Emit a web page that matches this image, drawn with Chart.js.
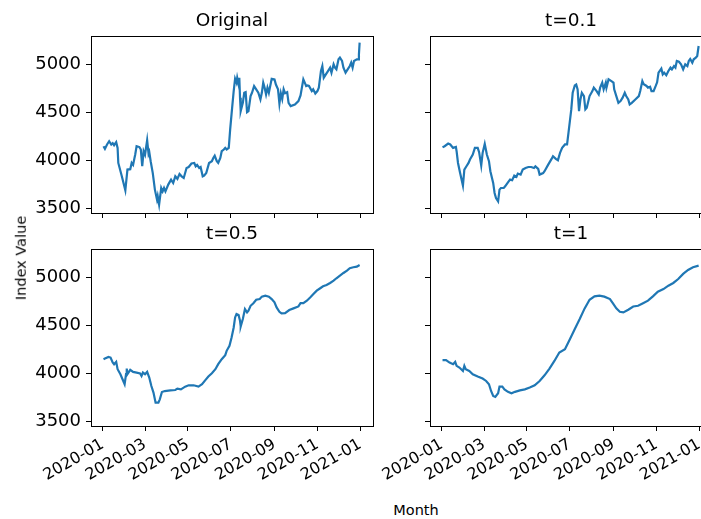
<!DOCTYPE html>
<html>
<head>
<meta charset="utf-8">
<script src="https://cdn.jsdelivr.net/npm/chart.js@4/dist/chart.umd.min.js"></script>
<style>
  html, body { margin: 0; padding: 0; background: #fff; overflow: hidden; width: 701px; height: 519px; }
  .panel { position: absolute; }
  .panel canvas { display: block; }
  .lbl { position: absolute; font-family: 'DejaVu Sans', sans-serif; font-size: 14.5px; line-height: 1; color: #000; white-space: nowrap; }
</style>
</head>
<body>
<div class="panel" id="p0"><canvas id="c0"></canvas></div>
<div class="panel" id="p1"><canvas id="c1"></canvas></div>
<div class="panel" id="p2"><canvas id="c2"></canvas></div>
<div class="panel" id="p3"><canvas id="c3"></canvas></div>
<div class="lbl" id="ylab" style="left:21px; top:258px; transform: translate(-50%, -50%) rotate(-90deg);">Index Value</div>
<div class="lbl" id="xlab" style="left:416px; top:510px; transform: translate(-50%, -50%);">Month</div>
<script>
// ---- data ----
const panelTitles = ['Original', 't=0.1', 't=0.5', 't=1'];

const originalDates = [
  '2020-01-02','2020-01-04','2020-01-07','2020-01-10','2020-01-13','2020-01-15','2020-01-17','2020-01-20','2020-01-22','2020-01-23',
  '2020-01-28','2020-02-02','2020-02-04','2020-02-05','2020-02-09','2020-02-11','2020-02-13','2020-02-15','2020-02-16','2020-02-18',
  '2020-02-22','2020-02-24','2020-02-26','2020-02-28','2020-03-01','2020-03-04','2020-03-06','2020-03-07','2020-03-09','2020-03-12',
  '2020-03-15','2020-03-18','2020-03-19','2020-03-21','2020-03-24','2020-03-26','2020-03-28','2020-03-30','2020-04-03','2020-04-07',
  '2020-04-10','2020-04-13','2020-04-16','2020-04-19','2020-04-22','2020-04-25','2020-04-29','2020-05-02','2020-05-06','2020-05-10',
  '2020-05-12','2020-05-14','2020-05-17','2020-05-19','2020-05-22','2020-05-24','2020-05-27','2020-05-31','2020-06-04','2020-06-06',
  '2020-06-08','2020-06-11','2020-06-13','2020-06-16','2020-06-18','2020-06-21','2020-06-23','2020-06-25','2020-06-28','2020-06-30',
  '2020-07-03','2020-07-05','2020-07-07','2020-07-09','2020-07-10','2020-07-12','2020-07-13','2020-07-14','2020-07-15','2020-07-18',
  '2020-07-20','2020-07-22','2020-07-24','2020-07-26','2020-07-29','2020-07-31','2020-08-03','2020-08-06','2020-08-09','2020-08-12',
  '2020-08-14','2020-08-16','2020-08-18','2020-08-20','2020-08-22','2020-08-24','2020-08-28','2020-09-01','2020-09-03','2020-09-06',
  '2020-09-08','2020-09-10','2020-09-12','2020-09-14','2020-09-16','2020-09-19','2020-09-21','2020-09-24','2020-09-30','2020-10-05',
  '2020-10-08','2020-10-12','2020-10-14','2020-10-16','2020-10-18','2020-10-20','2020-10-24','2020-10-26','2020-10-29','2020-11-01',
  '2020-11-03','2020-11-06','2020-11-08','2020-11-10','2020-11-13','2020-11-16','2020-11-19','2020-11-21','2020-11-24','2020-11-26',
  '2020-11-28','2020-12-01','2020-12-03','2020-12-06','2020-12-08','2020-12-11','2020-12-14','2020-12-17','2020-12-19','2020-12-21',
  '2020-12-23','2020-12-27','2020-12-29','2020-12-30','2020-12-31'
];
const originalValues = [
  4149,4121,4167,4201,4167,4180,4159,4191,4131,3975,
  3836,3690,3836,3906,3910,3975,3955,4027,4060,4149,
  4140,4115,3941,4097,4060,4211,4070,4090,3993,3870,
  3698,3594,3630,3542,3715,3680,3715,3680,3750,3802,
  3767,3836,3810,3860,3836,3819,3923,3933,3969,3975,
  3940,3955,3923,3933,3836,3843,3870,3975,3993,4027,
  4050,3993,3975,4027,4097,4115,4132,4115,4132,4323,
  4566,4722,4850,4810,4860,4790,4860,4653,4514,4600,
  4704,4710,4503,4514,4670,4704,4774,4740,4704,4635,
  4704,4809,4757,4687,4757,4704,4850,4843,4790,4740,
  4590,4700,4640,4740,4700,4710,4600,4566,4583,4618,
  4677,4844,4810,4775,4781,4775,4722,4740,4697,4722,
  4757,4930,4982,4861,4896,4930,4965,4913,5000,4965,
  4948,5052,5069,5035,4965,4913,4948,4982,5017,4965,
  5035,5052,5052,5104,5225
];

const t01Dates = [
  '2020-01-02','2020-01-05','2020-01-10','2020-01-13','2020-01-17','2020-01-21','2020-01-22','2020-01-24','2020-01-27','2020-01-31',
  '2020-02-02','2020-02-05','2020-02-08','2020-02-10','2020-02-14','2020-02-17','2020-02-21','2020-02-23','2020-02-26','2020-02-28',
  '2020-03-02','2020-03-05','2020-03-08','2020-03-10','2020-03-14','2020-03-16','2020-03-18','2020-03-21','2020-03-23','2020-03-25',
  '2020-03-29','2020-03-31','2020-04-04','2020-04-07','2020-04-10','2020-04-13','2020-04-16','2020-04-18','2020-04-22','2020-04-25',
  '2020-04-29','2020-05-03','2020-05-07','2020-05-11','2020-05-13','2020-05-17','2020-05-19','2020-05-24','2020-05-26','2020-05-31',
  '2020-06-05','2020-06-07','2020-06-11','2020-06-14','2020-06-17','2020-06-20','2020-06-24',
  '2020-06-27','2020-06-29','2020-07-03','2020-07-05','2020-07-08','2020-07-10','2020-07-12','2020-07-14','2020-07-16','2020-07-18',
  '2020-07-21','2020-07-23','2020-07-25','2020-07-29','2020-08-02','2020-08-04','2020-08-08','2020-08-11','2020-08-13','2020-08-16',
  '2020-08-18','2020-08-21','2020-08-22','2020-08-25','2020-08-29','2020-09-01','2020-09-02','2020-09-05','2020-09-08','2020-09-11',
  '2020-09-14','2020-09-17','2020-09-19','2020-09-22','2020-09-24','2020-09-27','2020-10-02','2020-10-07','2020-10-09','2020-10-12',
  '2020-10-14','2020-10-18','2020-10-20','2020-10-23','2020-10-25','2020-10-28','2020-10-31','2020-11-02','2020-11-04','2020-11-08',
  '2020-11-10','2020-11-12','2020-11-15','2020-11-18','2020-11-21','2020-11-23','2020-11-26','2020-11-28','2020-11-30','2020-12-03',
  '2020-12-06','2020-12-09','2020-12-12','2020-12-15','2020-12-17','2020-12-19','2020-12-22','2020-12-24','2020-12-27','2020-12-29',
  '2020-12-31'
];
const t01Values = [
  4139,4149,4177,4167,4132,4142,4097,3975,3870,3740,
  3906,3941,3975,4010,4062,4132,4132,4087,3948,4080,
  4173,4062,3993,3889,3767,3663,3610,3576,3698,3715,
  3715,3732,3774,3802,3795,3843,3830,3865,3854,3906,
  3923,3933,3933,3923,3940,3913,3854,3870,3889,3955,
  4017,4045,4017,4003,4080,4132,4167,
  4167,4288,4531,4704,4781,4790,4740,4514,4635,4704,
  4670,4531,4548,4670,4722,4757,4722,4687,4757,4809,
  4740,4809,4757,4844,4826,4809,4740,4670,4600,4618,
  4653,4704,4670,4635,4583,4600,4635,4670,4722,4826,
  4792,4775,4757,4767,4722,4722,4775,4813,4913,4955,
  4896,4913,4886,4930,4965,4948,4982,4965,5035,5027,
  5000,4948,5000,4982,5035,5055,5017,5052,5069,5086,
  5190
];

const t05Dates = [
  '2020-01-02','2020-01-04','2020-01-09','2020-01-12','2020-01-15','2020-01-17','2020-01-20','2020-01-22','2020-01-26','2020-01-29',
  '2020-02-01','2020-02-03','2020-02-04','2020-02-05','2020-02-09','2020-02-13','2020-02-18','2020-02-23','2020-02-25','2020-02-27',
  '2020-03-01','2020-03-04','2020-03-07','2020-03-10','2020-03-13','2020-03-16','2020-03-20','2020-03-22','2020-03-25','2020-03-29',
  '2020-04-06','2020-04-13','2020-04-16','2020-04-21','2020-04-27','2020-05-02','2020-05-09','2020-05-16','2020-05-21','2020-05-26',
  '2020-05-30','2020-06-04','2020-06-09','2020-06-13','2020-06-18','2020-06-23','2020-06-25','2020-06-29',
  '2020-07-02','2020-07-05','2020-07-07','2020-07-09','2020-07-12','2020-07-14','2020-07-15','2020-07-18','2020-07-21','2020-07-24',
  '2020-07-26','2020-07-29','2020-08-02','2020-08-06','2020-08-11','2020-08-14','2020-08-19','2020-08-24','2020-08-28','2020-09-01',
  '2020-09-04','2020-09-08','2020-09-11','2020-09-16','2020-09-22','2020-09-28','2020-10-05','2020-10-08','2020-10-12','2020-10-17',
  '2020-10-22','2020-10-26','2020-10-31','2020-11-05','2020-11-09','2020-11-14','2020-11-19','2020-11-24','2020-11-28','2020-12-03',
  '2020-12-08','2020-12-13','2020-12-17','2020-12-22','2020-12-27','2020-12-31'
];
const t05Values = [
  4149,4156,4173,4166,4115,4097,4121,4045,3993,3941,
  3889,3993,4052,3993,4038,4017,4010,4000,3975,4010,
  3993,4017,3958,3871,3802,3698,3698,3732,3808,3818,
  3825,3829,3843,3836,3864,3878,3878,3864,3889,3934,
  3969,4003,4045,4097,4149,4191,4236,4288,
  4375,4479,4583,4618,4607,4548,4490,4566,4670,4635,
  4653,4704,4731,4767,4774,4799,4809,4799,4774,4740,
  4687,4642,4625,4628,4660,4677,4697,4731,4731,4757,
  4792,4823,4861,4886,4906,4920,4941,4965,4990,5017,
  5045,5069,5094,5104,5111,5128
];

const t1Dates = [
  '2020-01-02','2020-01-07','2020-01-12','2020-01-17','2020-01-20','2020-01-22','2020-01-26','2020-01-31','2020-02-02','2020-02-04',
  '2020-02-09','2020-02-14','2020-02-21','2020-02-28','2020-03-04','2020-03-08','2020-03-11','2020-03-14','2020-03-17','2020-03-21',
  '2020-03-23','2020-03-27','2020-03-30','2020-04-04','2020-04-09','2020-04-14','2020-04-21','2020-04-28','2020-05-05','2020-05-12',
  '2020-05-19','2020-05-26','2020-06-02','2020-06-09','2020-06-16','2020-06-24','2020-07-01','2020-07-08','2020-07-15','2020-07-22',
  '2020-07-29','2020-08-05','2020-08-12','2020-08-19','2020-08-27','2020-08-31','2020-09-05','2020-09-10','2020-09-15','2020-09-22',
  '2020-09-29','2020-10-06','2020-10-13','2020-10-20','2020-10-27','2020-11-03','2020-11-11','2020-11-18','2020-11-25','2020-12-02',
  '2020-12-09','2020-12-16','2020-12-23','2020-12-31'
];
const t1Values = [
  4139,4139,4114,4097,4121,4080,4062,4027,4080,4045,
  4027,3993,3969,3948,3923,3889,3819,3767,3757,3795,
  3864,3864,3836,3810,3795,3810,3825,3836,3854,3878,
  3923,3982,4052,4131,4218,4253,4357,4462,4566,4677,
  4767,4802,4809,4799,4774,4731,4677,4642,4635,4663,
  4697,4704,4731,4757,4802,4851,4878,4913,4941,4982,
  5035,5076,5104,5121
];

const xTickDates  = ['2020-01-01','2020-03-01','2020-05-01','2020-07-01','2020-09-01','2020-11-01','2021-01-01'];
const xTickLabels = ['2020-01','2020-03','2020-05','2020-07','2020-09','2020-11','2021-01'];
const yTicks = [3500, 4000, 4500, 5000];

// ---- layout of the 2x2 grid ----
const FONT = "'DejaVu Sans', sans-serif";
const PLOT_W = 282, PLOT_H = 177;
const AXIS_W = 91;          // room left of each plot area
const TITLE_H = 36;         // room above each plot area
const RIGHT_PAD = 10;
const colLeft = [0, 339];
const rowTop = [0, 213];
const xAxisH = [10, 60];

const X_MIN = -16.8, X_MAX = 384;   // days from 2020-01-01
const Y_MIN = 3455, Y_MAX = 5294;

const dayOf = s => (Date.parse(s) - Date.parse('2020-01-01')) / 864e5;

// box around each plot area
const framePlugin = {
  id: 'frame',
  afterDraw(chart) {
    const { ctx, chartArea: a } = chart;
    ctx.save();
    ctx.strokeStyle = '#000';
    ctx.lineWidth = 1;
    ctx.strokeRect(Math.round(a.left) + 0.5, Math.round(a.top) + 0.5,
                   Math.round(a.right) - Math.round(a.left), Math.round(a.bottom) - Math.round(a.top));
    ctx.restore();
  }
};

const series = [
  [originalDates, originalValues],
  [t01Dates, t01Values],
  [t05Dates, t05Values],
  [t1Dates, t1Values]
];

series.forEach(([dates, values], i) => {
  const row = Math.floor(i / 2), col = i % 2;
  const w = AXIS_W + PLOT_W + RIGHT_PAD;
  const h = TITLE_H + PLOT_H + xAxisH[row];
  const panel = document.getElementById('p' + i);
  panel.style.left = colLeft[col] + 'px';
  panel.style.top = rowTop[row] + 'px';
  const canvas = document.getElementById('c' + i);
  canvas.width = w; canvas.height = h;
  canvas.style.width = w + 'px'; canvas.style.height = h + 'px';

  const showX = row === 1, showY = col === 0;

  new Chart(canvas, {
    type: 'line',
    data: {
      datasets: [{
        data: dates.map((d, k) => ({ x: dayOf(d), y: values[k] })),
        borderColor: '#1f77b4',
        borderWidth: 2.2,
        pointRadius: 0,
        tension: 0,
        fill: false
      }]
    },
    options: {
      responsive: false,
      animation: false,
      devicePixelRatio: 1,
      layout: { padding: { left: 0, top: 0, right: RIGHT_PAD, bottom: 0 } },
      plugins: {
        legend: { display: false },
        tooltip: { enabled: false },
        title: {
          display: true,
          text: panelTitles[i],
          fullSize: false,
          color: '#000',
          font: { family: FONT, size: 18.5, weight: 'normal' },
          padding: { top: 9.6, bottom: 4.2 }
        }
      },
      scales: {
        x: {
          type: 'linear',
          min: X_MIN,
          max: X_MAX,
          afterBuildTicks: s => { s.ticks = xTickDates.map(d => ({ value: dayOf(d) })); },
          afterFit: s => { s.height = xAxisH[row]; s.paddingLeft = 0; s.paddingRight = 0; },
          border: { display: false },
          grid: { display: true, drawOnChartArea: false, drawTicks: true, tickLength: 5, color: '#000', lineWidth: 1 },
          ticks: {
            display: showX,
            autoSkip: false,
            minRotation: 30,
            maxRotation: 30,
            padding: 4,
            color: '#000',
            font: { family: FONT, size: 16 },
            callback: (v, idx) => xTickLabels[idx]
          }
        },
        y: {
          type: 'linear',
          min: Y_MIN,
          max: Y_MAX,
          afterBuildTicks: s => { s.ticks = yTicks.map(v => ({ value: v })); },
          afterFit: s => { s.width = AXIS_W; s.paddingTop = 0; s.paddingBottom = 0; },
          border: { display: false },
          grid: { display: true, drawOnChartArea: false, drawTicks: true, tickLength: 5, color: '#000', lineWidth: 1 },
          ticks: {
            display: showY,
            padding: 5,
            color: '#000',
            font: { family: FONT, size: 18 },
            callback: v => String(v)
          }
        }
      }
    },
    plugins: [framePlugin]
  });
});
</script>
</body>
</html>
